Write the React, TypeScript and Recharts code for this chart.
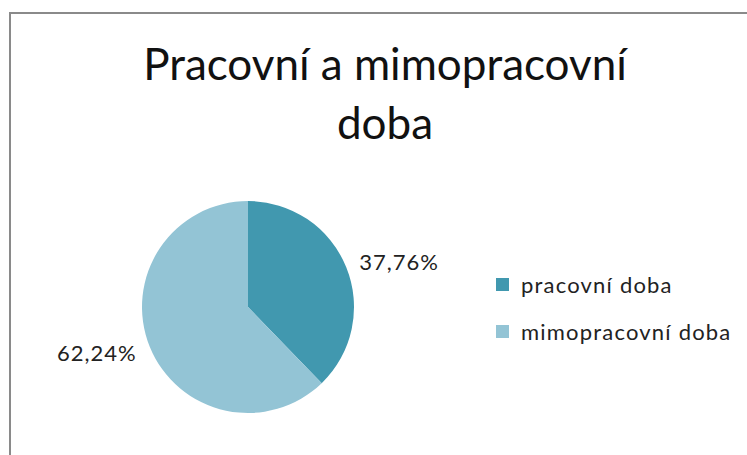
import { PieChart, Pie, Cell, Legend } from 'recharts'

const categories = ['pracovní doba', 'mimopracovní doba']
const shares = [37.76, 62.24]
const colors = ['#4198AF', '#93C4D5']

const data = categories.map((name, i) => ({ name, value: shares[i] }))

const RADIAN = Math.PI / 180

// percentage labels sit just outside the slice, like Excel's "best fit"
function renderLabel(props: any) {
  const { cx, cy, midAngle, outerRadius, value } = props
  const r = outerRadius + 14
  const x = cx + r * Math.cos(-midAngle * RADIAN)
  const y = cy + r * Math.sin(-midAngle * RADIAN)
  return (
    <text
      x={x}
      y={y}
      fill="#222"
      fontSize={22}
      letterSpacing={1}
      fontFamily="Lato, sans-serif"
      textAnchor={x > cx ? 'start' : 'end'}
      dominantBaseline="central"
    >
      {value.toFixed(2).replace('.', ',')}%
    </text>
  )
}

function LegendBox() {
  return (
    <div style={{ fontFamily: 'Lato, sans-serif', fontSize: 22, letterSpacing: 1.2, color: '#222' }}>
      {data.map((d, i) => (
        <div key={d.name} style={{ display: 'flex', alignItems: 'center', height: 47 }}>
          <span style={{ width: 13, height: 13, background: colors[i], marginRight: 12 }} />
          {d.name}
        </div>
      ))}
    </div>
  )
}

export default function App() {
  return (
    <div style={{ position: 'absolute', left: 0, top: 0, width: 747, height: 455, background: '#fff', overflow: 'hidden' }}>
      <div
        style={{
          position: 'absolute',
          left: 9,
          top: 12,
          width: 760,
          height: 470,
          border: '2px solid #8a8a8a',
          boxSizing: 'border-box',
        }}
      />
      <div
        style={{
          position: 'absolute',
          left: 0,
          top: 34,
          width: 770,
          textAlign: 'center',
          fontFamily: 'Lato, sans-serif',
          fontSize: 44,
          lineHeight: '59px',
          color: '#111',
        }}
      >
        Pracovní a mimopracovní
        <br />
        doba
      </div>
      <div style={{ position: 'absolute', left: 0, top: 0 }}>
        <PieChart width={747} height={455}>
          <Pie
            data={data}
            dataKey="value"
            nameKey="name"
            cx={243}
            cy={302}
            outerRadius={106}
            startAngle={90}
            endAngle={-270}
            stroke="none"
            label={renderLabel}
            labelLine={false}
            isAnimationActive={false}
          >
            {data.map((_, i) => (
              <Cell key={`cell-${i}`} fill={colors[i]} />
            ))}
          </Pie>
          <Legend
            content={<LegendBox />}
            wrapperStyle={{ position: 'absolute', left: 496, top: 261, width: 250 }}
          />
        </PieChart>
      </div>
    </div>
  )
}
